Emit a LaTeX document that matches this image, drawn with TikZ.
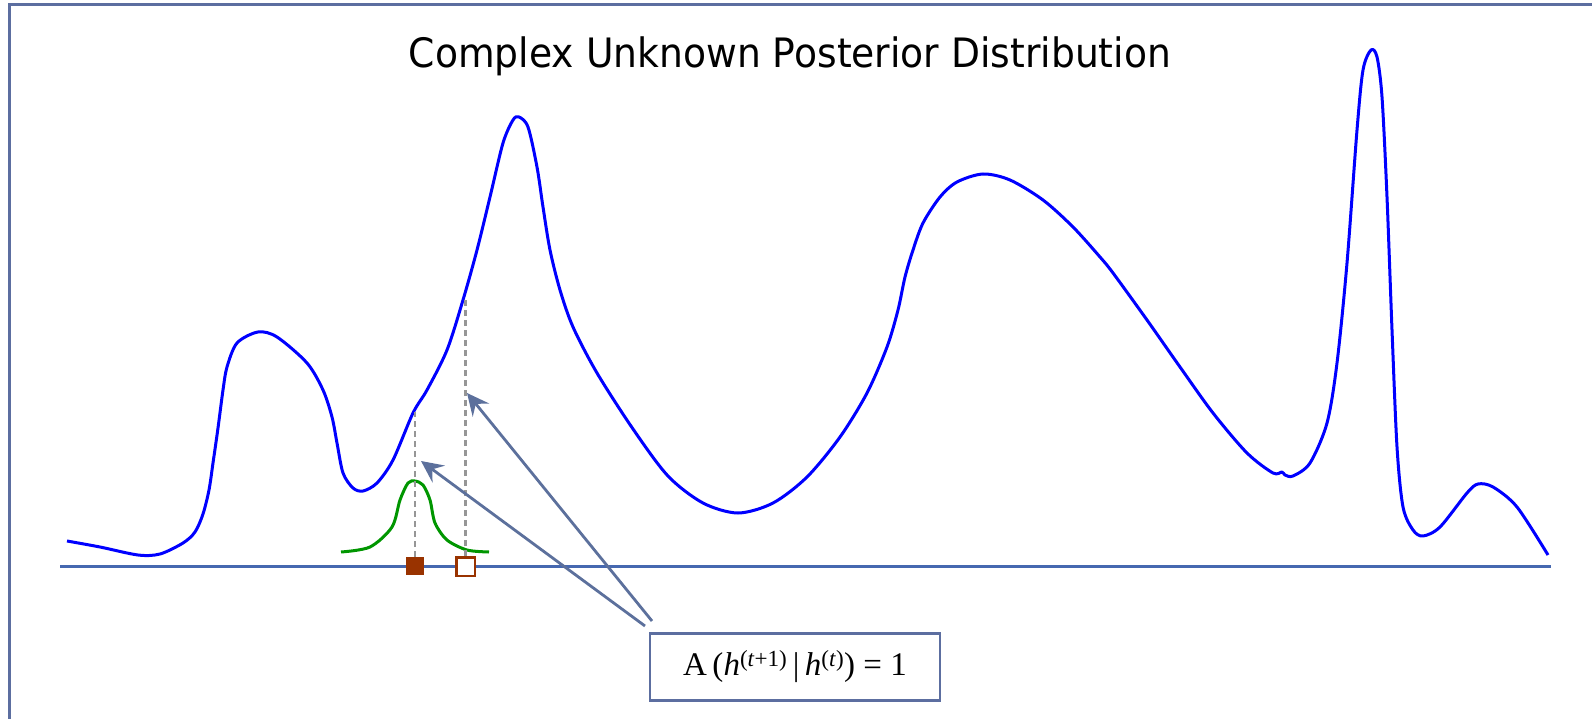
\documentclass[tikz,border=0pt]{standalone}
\usepackage{fontspec}
\setmainfont{Liberation Serif}
\newfontfamily\titlefont{DejaVu Sans}
\usetikzlibrary{arrows.meta}
\definecolor{framecol}{RGB}{92,110,160}
\definecolor{axiscol}{RGB}{70,104,176}
\definecolor{arrowcol}{RGB}{92,112,156}
\definecolor{curveblue}{RGB}{0,0,255}
\definecolor{propgreen}{RGB}{0,150,0}
\definecolor{sqbrown}{RGB}{153,51,0}
\definecolor{dashgray}{RGB}{150,150,150}
\tikzset{
  frameline/.style={draw=framecol, line width=3pt},
  axisline/.style={draw=axiscol, line width=3pt},
  posterior/.style={draw=curveblue, line width=3pt, line join=round},
  proposal/.style={draw=propgreen, line width=3pt, line join=round},
  guide/.style={draw=dashgray, line width=2.6pt, dash pattern=on 6pt off 4pt},
  pointer/.style={draw=arrowcol, line width=2.8pt, -{Stealth[length=22pt,width=21pt,inset=8pt]}},
  fullsq/.style={fill=sqbrown, inner sep=0pt, minimum size=18pt},
  emptysq/.style={draw=sqbrown, fill=white, line width=2.5pt, inner sep=0pt, minimum size=18.5pt},
  labelbox/.style={draw=framecol, line width=2.4pt, fill=white, minimum width=290pt, minimum height=67pt, inner sep=0pt, font=\fontsize{33}{38}\selectfont}
}
\begin{document}
\begin{tikzpicture}[x=1pt,y=-1pt]
\useasboundingbox (0,0) rectangle (1592,719);
% frame
\draw[frameline] (9,730) -- (9,5) -- (1600,5);
% title
\node[anchor=base, inner sep=0pt] (title) at (790,68) {\titlefont\fontsize{40.5}{48}\selectfont\scalebox{0.93}[1]{Complex Unknown Posterior Distribution}};
% axis
\coordinate (axL) at (60,566);
\coordinate (axR) at (1551,566);
\draw[axisline] (axL) -- (axR);
% posterior curve
\draw[posterior] plot[smooth, tension=0.5] coordinates {
(67,541) (100,547) (138,555) (160,554) (183,543) (195,532) (203,514) (209,490) (213,463) (218,428) (223,390) (227,367) (237,343) (258,332) (277,337) (307,363) (323,390) (332,417) (337,443) (343,473) (353,488) (363,491) (377,483) (393,460) (413,413) (427,390) (447,350) (463,300) (477,250) (490,197) (503,143) (513,120) (519,117) (528,127) (537,167) (543,207) (550,250) (560,290) (573,327) (597,373) (633,429) (668,476) (703,503) (738,513) (773,503) (807,477) (840,437) (867,393) (887,347) (898,310) (905,277) (913,250) (923,223) (940,197) (957,182) (983,174) (1010,180) (1043,200) (1073,227) (1100,257) (1113,273) (1147,320) (1180,367) (1213,413) (1247,453) (1273,473) (1282,472) (1285,475) (1293,476) (1310,463) (1327,423) (1337,363) (1347,263) (1357,130) (1363,70) (1371,50) (1377,57) (1382,97) (1387,197) (1392,330) (1397,447) (1403,507) (1413,530) (1423,536) (1440,527) (1467,493) (1478,484) (1493,487) (1517,507) (1548,555)};
% proposal curve
\draw[proposal] plot[smooth, tension=0.5] coordinates {
(341,552) (370,547) (392,527) (400,500) (408,483) (415,481) (423,485) (430,500) (435,523) (447,540) (467,550) (489,552)};
% squares
\node[fullsq] (cur) at (415,566) {};
\node[emptysq] (next) at (465.5,566.5) {};
% guide lines
\coordinate (curtop) at (415,412);
\coordinate (nexttop) at (465.5,299);
\draw[guide] (cur.north) -- (curtop);
\draw[guide] (next.north) -- (nexttop);
\node[fullsq] at (cur) {};
\node[emptysq] at (next) {};
% label box
\node[labelbox] (accept) at (795,667) {A\,(\textit{h}\textsuperscript{(\textit{t}+1)}\,|\,\textit{h}\textsuperscript{(\textit{t})}) = 1};
% arrows
\coordinate (tailA) at (645,626);
\coordinate (tailB) at (652,621);
\coordinate (tipA) at (421,461);
\coordinate (tipB) at (467,393);
\draw[pointer] (tailA) -- (tipA);
\draw[pointer] (tailB) -- (tipB);
\end{tikzpicture}
\end{document}
